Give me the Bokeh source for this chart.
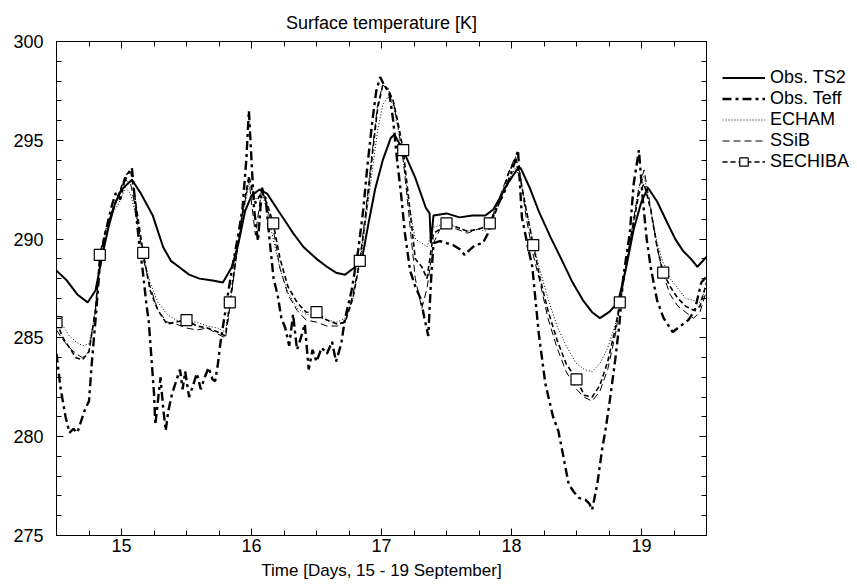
from bokeh.plotting import figure
from bokeh.layouts import row
from bokeh.models import FixedTicker, LinearAxis, Legend, LegendItem, Range1d
from bokeh.embed import file_html
from bokeh.resources import INLINE

# ---------------- data ----------------
TS2_T = [14.50, 14.58, 14.66, 14.74, 14.80, 14.85, 14.90, 14.95, 15.00, 15.08, 15.15, 15.24,
         15.32, 15.38, 15.44, 15.52, 15.60, 15.70, 15.78, 15.85, 15.90, 15.95, 16.00, 16.06,
         16.12, 16.20, 16.26, 16.32, 16.40, 16.50, 16.58, 16.65, 16.72, 16.80, 16.85, 16.90,
         16.95, 17.01, 17.07, 17.10, 17.18, 17.26, 17.34, 17.37, 17.38, 17.40, 17.50, 17.60,
         17.70, 17.80, 17.86, 17.92, 17.97, 18.04, 18.07, 18.14, 18.21, 18.30, 18.39, 18.47,
         18.55, 18.62, 18.68, 18.75, 18.82, 18.88, 18.94, 19.00, 19.05, 19.12, 19.20, 19.26,
         19.32, 19.38, 19.43, 19.50]
TS2_V = [288.4, 287.9, 287.2, 286.8, 287.4, 289.1, 290.6, 291.8, 292.5, 293.0, 292.3, 291.2,
         289.6, 288.9, 288.6, 288.2, 288.0, 287.9, 287.8, 288.6, 289.8, 291.4, 292.2, 292.5,
         292.3, 291.5, 290.9, 290.3, 289.6, 289.0, 288.6, 288.3, 288.2, 288.6, 289.0, 290.8,
         292.5, 294.0, 295.1, 295.3, 294.3, 293.1, 291.6, 291.3, 289.8, 291.2, 291.3, 291.1,
         291.2, 291.2, 291.5, 292.2, 292.8, 293.5, 293.6, 292.6, 291.4, 290.1, 288.9, 287.8,
         286.9, 286.3, 286.0, 286.3, 286.8, 288.5, 290.5, 291.9, 292.6, 291.9, 290.8, 290.0,
         289.4, 289.0, 288.6, 289.1]

TEFF_T = [14.50, 14.53, 14.57, 14.60, 14.63, 14.66, 14.69, 14.72, 14.75, 14.77, 14.80, 14.83,
          14.86, 14.90, 14.93, 14.96, 14.99, 15.02, 15.05, 15.08, 15.10, 15.12, 15.14, 15.16,
          15.19, 15.21, 15.23, 15.25, 15.26, 15.28, 15.30, 15.32, 15.34, 15.36, 15.39, 15.42,
          15.45, 15.47, 15.49, 15.52, 15.55, 15.58, 15.61, 15.64, 15.67, 15.70, 15.72, 15.74,
          15.76, 15.80, 15.84, 15.90, 15.93, 15.96, 15.98, 16.00, 16.02, 16.05, 16.08, 16.11,
          16.14, 16.17, 16.20, 16.23, 16.26, 16.29, 16.32, 16.35, 16.38, 16.41, 16.44, 16.47,
          16.50, 16.54, 16.58, 16.62, 16.65, 16.69, 16.72, 16.77, 16.82, 16.86, 16.89, 16.93,
          16.96, 16.99, 17.02, 17.06, 17.09, 17.12, 17.15, 17.18, 17.22, 17.26, 17.30, 17.33,
          17.36, 17.38, 17.40, 17.45, 17.50, 17.55, 17.60, 17.64, 17.67, 17.72, 17.78, 17.82,
          17.86, 17.90, 17.94, 17.98, 18.02, 18.05, 18.08, 18.12, 18.16, 18.21, 18.26, 18.32,
          18.36, 18.39, 18.44, 18.48, 18.52, 18.57, 18.60, 18.62, 18.66, 18.70, 18.72, 18.76,
          18.80, 18.83, 18.86, 18.91, 18.94, 18.98, 19.01, 19.04, 19.07, 19.12, 19.17, 19.24,
          19.30, 19.36, 19.41, 19.46, 19.50]
TEFF_V = [284.2, 282.5, 281.0, 280.2, 280.4, 280.2, 280.8, 281.4, 281.8, 283.6, 285.9, 288.4,
          289.8, 291.0, 291.8, 292.4, 292.0, 292.9, 293.3, 293.6, 292.2, 290.8, 289.5, 288.6,
          286.8, 285.8, 284.0, 282.2, 280.6, 281.8, 283.0, 281.5, 280.3, 281.3, 282.2, 282.8,
          283.4, 282.4, 283.3, 282.0, 282.6, 283.2, 282.4, 283.0, 283.5, 282.9, 282.8, 283.6,
          284.7, 286.4, 288.1, 290.3, 291.5, 294.0, 296.5, 294.0, 291.5, 289.9, 292.6, 292.0,
          289.9, 288.0, 287.2, 286.0, 285.5, 284.6, 286.2, 284.4, 285.0, 285.7, 283.4, 284.4,
          283.8, 284.5, 284.2, 284.8, 283.8, 284.7, 286.0, 287.4, 289.4, 291.5, 293.6, 296.0,
          297.5, 298.2, 297.8, 297.4, 296.0, 294.0, 292.3, 290.3, 288.4, 287.6, 287.0, 286.0,
          285.1, 287.8, 289.8, 289.9, 289.8, 289.7, 289.5, 289.2, 289.4, 289.7, 289.8, 290.3,
          291.2, 291.8, 292.3, 293.0, 293.8, 294.5, 291.1, 289.8, 288.6, 285.2, 282.7, 281.0,
          280.3, 279.3, 277.6, 277.2, 276.9, 276.8, 276.6, 276.3, 277.6, 279.5, 280.2, 282.0,
          284.0, 285.7, 288.1, 290.3, 292.8, 294.5, 292.0, 290.0, 288.6, 286.9, 286.0, 285.3,
          285.6, 285.9, 286.4, 287.8, 288.1]

MOD_T = [14.500, 14.55, 14.60, 14.65, 14.70, 14.75, 14.80, 14.833, 14.88, 14.93, 14.98, 15.03,
         15.07, 15.11, 15.167, 15.22, 15.28, 15.35, 15.42, 15.50, 15.58, 15.66, 15.74, 15.80,
         15.833, 15.88, 15.93, 15.98, 16.03, 16.08, 16.12, 16.167, 16.22, 16.28, 16.35, 16.42,
         16.50, 16.58, 16.66, 16.72, 16.78, 16.833, 16.88, 16.93, 16.97, 17.01, 17.05, 17.09,
         17.13, 17.167, 17.21, 17.26, 17.31, 17.35, 17.40, 17.45, 17.50, 17.58, 17.66, 17.74,
         17.80, 17.833, 17.88, 17.93, 17.98, 18.03, 18.07, 18.11, 18.167, 18.22, 18.28, 18.35,
         18.42, 18.50, 18.56, 18.62, 18.68, 18.74, 18.80, 18.833, 18.88, 18.93, 18.98, 19.02,
         19.07, 19.12, 19.167, 19.22, 19.28, 19.34, 19.40, 19.45, 19.50]
ECHAM_V = [286.2, 285.6, 285.1, 284.8, 284.6, 284.7, 286.3, 288.7, 290.4, 291.3, 291.8, 292.6,
           292.3, 291.2, 289.2, 287.8, 286.8, 286.2, 285.9, 285.8, 285.8, 285.6, 285.5, 285.3,
           286.6, 288.9, 291.0, 292.8, 292.0, 292.4, 291.4, 290.0, 288.5, 287.3, 286.5, 286.2,
           286.1, 285.9, 285.8, 286.0, 287.0, 288.7, 291.0, 293.5, 295.5, 296.8, 297.2, 296.8,
           295.5, 294.0, 291.8, 290.0, 289.8, 289.6, 290.6, 290.7, 290.8, 290.6, 290.4, 290.5,
           290.4, 290.9, 291.6, 292.3, 293.0, 293.6, 293.0, 291.6, 289.8, 288.4, 287.0, 285.6,
           284.6, 283.7, 283.4, 283.3, 283.7, 284.5, 285.7, 286.6, 288.5, 290.7, 292.6, 293.2,
           291.5, 289.8, 288.8, 288.0, 287.5, 287.0, 286.9, 286.8, 287.6]
SSIB_V = [285.4, 284.9, 284.5, 284.2, 284.0, 284.3, 286.5, 289.0, 290.5, 291.5, 292.3, 293.0,
          292.8, 291.5, 289.0, 287.6, 286.4, 285.8, 285.7, 285.5, 285.4, 285.5, 285.2, 285.0,
          286.5, 289.0, 291.2, 293.0, 290.2, 292.6, 291.6, 290.5, 288.5, 287.2, 286.4, 285.9,
          285.8, 285.6, 285.6, 285.8, 287.2, 288.9, 291.5, 294.5, 296.8, 297.8, 297.6, 297.0,
          295.6, 294.0, 291.3, 288.0, 286.5, 287.5, 289.8, 290.5, 290.7, 290.5, 290.3, 290.5,
          290.6, 290.8, 291.6, 292.5, 293.4, 294.2, 293.2, 291.2, 289.2, 287.8, 286.0, 284.5,
          283.3, 282.4, 282.0, 281.8, 282.3, 283.4, 285.2, 286.6, 288.6, 290.6, 292.6, 293.5,
          291.6, 289.6, 288.2, 287.2, 286.6, 286.3, 286.0, 286.3, 287.4]
SECHIBA_V = [285.8, 285.0, 284.5, 284.0, 283.9, 284.3, 286.4, 289.2, 290.5, 291.4, 292.3, 293.2,
             293.5, 291.8, 289.3, 287.4, 286.4, 285.7, 285.8, 285.9, 285.6, 285.5, 285.3, 285.1,
             286.8, 289.0, 291.3, 293.2, 291.8, 292.4, 291.8, 290.8, 289.0, 287.6, 286.8, 286.3,
             286.3, 285.9, 285.7, 285.8, 287.0, 288.9, 291.2, 294.3, 296.6, 297.8, 297.6, 297.0,
             295.8, 294.5, 292.0, 289.0, 288.6, 288.0, 290.3, 290.5, 290.8, 290.6, 290.4, 290.5,
             290.6, 290.8, 291.4, 292.3, 293.4, 294.0, 293.0, 291.6, 289.7, 288.0, 286.4, 284.9,
             283.7, 282.9, 282.1, 282.0, 282.6, 283.8, 285.5, 286.8, 288.6, 290.5, 292.3, 292.8,
             291.5, 289.6, 288.3, 287.6, 287.0, 286.6, 286.4, 286.6, 287.8]
SECHIBA_MARK_T = [14.500, 14.833, 15.167, 15.50, 15.833, 16.167, 16.50, 16.833, 17.167,
                  17.50, 17.833, 18.167, 18.50, 18.833, 19.167]

X_TICKS = [15, 16, 17, 18, 19]
Y_TICKS = [275, 280, 285, 290, 295, 300]

TITLE = "Surface temperature [K]"
XLABEL = "Time [Days, 15 - 19 September]"
NAMES = ["Obs. TS2", "Obs. Teff", "ECHAM", "SSiB", "SECHIBA"]

# ---------------- styles ----------------
FONT = "Liberation Sans"
STY_TS2 = dict(line_color="black", line_width=2)
STY_TEFF = dict(line_color="black", line_width=2.4, line_dash="9 4 3 4")
STY_ECH = dict(line_color="black", line_width=1, line_dash="1 2")
STY_SSIB = dict(line_color="black", line_width=1, line_dash="7 4")
STY_SECH = dict(line_color="black", line_width=1.6, line_dash="5 3")
STY_MARK = dict(marker="square", size=11, fill_color="white", line_color="black", line_width=1.2)

# ---------------- main figure ----------------
p = figure(width=710, height=584, x_range=Range1d(14.5, 19.5), y_range=Range1d(275, 300),
           output_backend="svg", toolbar_location=None,
           min_border_left=56, min_border_right=4, min_border_top=41, min_border_bottom=49)
p.title.text = TITLE
p.title.align = "center"
p.title.text_font = FONT
p.title.text_font_size = "18px"
p.title.text_font_style = "normal"
p.title.text_color = "black"
p.title.standoff = 18
p.xgrid.visible = False
p.ygrid.visible = False
p.outline_line_color = "black"
p.background_fill_color = "white"
p.border_fill_color = "white"

x_minor = [14.5 + 0.25 * i for i in range(21)]
y_minor = list(range(275, 301))


def style_axis(ax, show_labels):
    ax.axis_line_color = "black"
    ax.axis_line_width = 1
    ax.major_tick_in = 7
    ax.major_tick_out = 0
    ax.minor_tick_in = 5
    ax.minor_tick_out = 0
    ax.major_tick_line_color = "black"
    ax.minor_tick_line_color = "black"
    ax.major_label_text_font = FONT
    ax.major_label_text_color = "black"
    ax.major_label_text_font_size = "18px"
    if not show_labels:
        ax.major_label_overrides = {t: "" for t in ax.ticker.ticks}
        ax.major_label_text_font_size = "1px"
        ax.major_label_standoff = 0


p.xaxis[0].ticker = FixedTicker(ticks=X_TICKS, minor_ticks=x_minor)
p.yaxis[0].ticker = FixedTicker(ticks=Y_TICKS, minor_ticks=y_minor)
style_axis(p.xaxis[0], True)
style_axis(p.yaxis[0], True)
p.xaxis[0].major_label_standoff = 3
p.yaxis[0].major_label_standoff = 13
p.xaxis[0].axis_label = XLABEL
p.xaxis[0].axis_label_text_font = FONT
p.xaxis[0].axis_label_text_font_size = "17px"
p.xaxis[0].axis_label_text_font_style = "normal"
p.xaxis[0].axis_label_text_color = "black"
p.xaxis[0].axis_label_standoff = 6

top_ax = LinearAxis(ticker=FixedTicker(ticks=X_TICKS, minor_ticks=x_minor))
right_ax = LinearAxis(ticker=FixedTicker(ticks=Y_TICKS, minor_ticks=y_minor))
style_axis(top_ax, False)
style_axis(right_ax, False)
p.add_layout(top_ax, "above")
p.add_layout(right_ax, "right")

p.line(TS2_T, TS2_V, **STY_TS2)
p.line(TEFF_T, TEFF_V, **STY_TEFF)
p.line(MOD_T, ECHAM_V, **STY_ECH)
p.line(MOD_T, SSIB_V, **STY_SSIB)
p.line(MOD_T, SECHIBA_V, **STY_SECH)
lookup = dict(zip(MOD_T, SECHIBA_V))
mark_v = [lookup[t] for t in SECHIBA_MARK_T]
p.scatter(SECHIBA_MARK_T, mark_v, **STY_MARK)

# ---------------- legend panel (separate canvas to the right) ----------------
lg = figure(width=147, height=584, x_range=Range1d(0, 1), y_range=Range1d(0, 1),
            output_backend="svg", toolbar_location=None,
            x_axis_type=None, y_axis_type=None,
            min_border_left=0, min_border_right=0, min_border_top=0, min_border_bottom=0)
lg.outline_line_color = None
lg.xgrid.visible = False
lg.ygrid.visible = False
lg.background_fill_color = "white"
lg.border_fill_color = "white"
# legend-key renderers: placeholder points lie outside the visible range of this panel
KEY_X = [5, 6]
KEY_Y = [5, 6]
g1 = lg.line(KEY_X, KEY_Y, **STY_TS2)
g2 = lg.line(KEY_X, KEY_Y, **STY_TEFF)
g3 = lg.line(KEY_X, KEY_Y, **STY_ECH)
g4 = lg.line(KEY_X, KEY_Y, **STY_SSIB)
g5 = lg.line(KEY_X, KEY_Y, **STY_SECH)
g5m = lg.scatter(KEY_X, KEY_Y, **STY_MARK)

legend = Legend(items=[
    LegendItem(label=NAMES[0], renderers=[g1]),
    LegendItem(label=NAMES[1], renderers=[g2]),
    LegendItem(label=NAMES[2], renderers=[g3]),
    LegendItem(label=NAMES[3], renderers=[g4]),
    LegendItem(label=NAMES[4], renderers=[g5, g5m]),
], location=(12, 363))
legend.background_fill_alpha = 0
legend.border_line_alpha = 0
legend.padding = 0
legend.margin = 0
legend.spacing = 0
legend.glyph_width = 43
legend.glyph_height = 21
legend.label_height = 21
legend.label_standoff = 5
legend.label_text_font = FONT
legend.label_text_font_size = "18px"
legend.label_text_color = "black"
lg.add_layout(legend)

layout = row(p, lg, spacing=0)
open("out.html", "w").write(file_html(layout, INLINE))
